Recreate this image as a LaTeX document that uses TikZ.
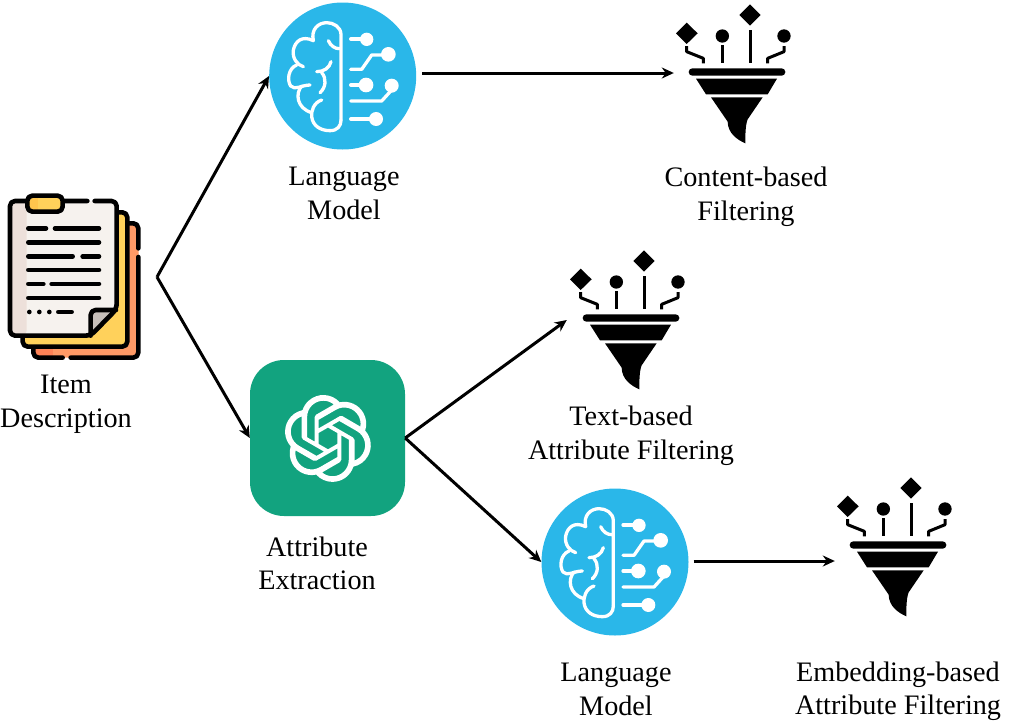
\documentclass[tikz,border=0pt]{standalone}
\usepackage{fontspec}
\setmainfont{Liberation Serif}
\usetikzlibrary{arrows.meta,svg.path}
\definecolor{brainblue}{HTML}{2AB7E9}
\definecolor{gptgreen}{HTML}{12A37F}
\definecolor{paper}{HTML}{F6F2EE}
\definecolor{paperband}{HTML}{EDE0DA}
\definecolor{sheetyellow}{HTML}{FFD15B}
\definecolor{sheetorange}{HTML}{FF9A66}
\definecolor{foldgray}{HTML}{C6BFBA}
\tikzset{
  lbl/.style={align=center,font=\fontsize{28.2}{33.5}\selectfont,inner sep=0pt},
  flow/.style={line width=3pt,-{Stealth[length=12pt,width=11pt]}},
  brainnode/.style={circle,fill=brainblue,minimum size=147pt,inner sep=0pt},
  funnelnode/.style={minimum width=126pt,minimum height=100pt,inner sep=0pt},
  wline/.style={white,line width=3.3pt,line cap=round,line join=round},
  docline/.style={line width=4.6pt,line cap=round,line join=round},
  fstem/.style={line width=3pt,line join=round},
}
\newcommand{\brainart}[2]{%
\begin{scope}[shift={(#1,#2)},x=.3333pt,y=-.3333pt,shift={(-248,-228)}]
  \draw[wline] (243,360) -- (243,105) .. controls (243,80) and (220,68) .. (200,68) .. controls (175,68) and (152,88) .. (160,122);
  \draw[wline] (160,122) .. controls (125,105) and (105,125) .. (100,150) .. controls (96,175) and (112,195) .. (130,200);
  \draw[wline] (110,195) .. controls (85,205) and (80,240) .. (92,258) .. controls (105,272) and (125,255) .. (150,255);
  \draw[wline] (125,258) .. controls (105,280) and (110,325) .. (155,338);
  \draw[wline] (185,300) .. controls (160,308) and (153,335) .. (155,350) .. controls (158,378) and (182,392) .. (210,392) .. controls (232,392) and (243,378) .. (243,360);
  \draw[wline] (205,122) .. controls (212,138) and (225,146) .. (238,146);
  \draw[wline] (213,185) .. controls (208,205) and (190,215) .. (170,215);
  \draw[wline] (185,218) .. controls (200,235) and (198,262) .. (180,278);
  \draw[wline] (272,117) -- (315,117);
  \fill[white] (320,118) circle (20);
  \draw[wline] (272,208) -- (305,208) -- (335,165) -- (375,165);
  \fill[white] (385,163) circle (22);
  \draw[wline] (272,255) -- (315,255);
  \fill[white] (318,255) circle (22);
  \draw[wline] (272,303) -- (365,303) -- (395,270);
  \fill[white] (395,257) circle (21);
  \draw[wline] (272,357) -- (340,357);
  \fill[white] (348,357) circle (21);
\end{scope}}
\newcommand{\funnelart}[2]{%
\begin{scope}[shift={(#1,#2)},x=.3333pt,y=-.3333pt,shift={(-233,-216)}]
  \fill (272,13) -- (304,45) -- (272,77) -- (240,45) -- cycle;
  \fill (82,68) -- (115,100) -- (82,132) -- (50,100) -- cycle;
  \fill (189,108) circle (20);
  \fill (374,108) circle (20);
  \draw[fstem] (272,90) -- (272,190);
  \draw[fstem] (189,135) -- (189,190);
  \draw[fstem] (82,138) -- (82,155) -- (132,175) -- (132,190);
  \draw[fstem] (374,138) -- (374,155) -- (325,175) -- (325,190);
  \fill[rounded corners=3.6pt] (88,205) rectangle (378,227);
  \fill (110,236) -- (353,236) -- (325,283) -- (140,283) -- cycle;
  \fill (155,292) -- (310,292) -- (265,358) .. controls (258,375) and (258,405) .. (258,430) .. controls (235,420) and (205,400) .. (205,365) -- cycle;
\end{scope}}
\begin{document}
\begin{tikzpicture}[x=1pt,y=-1pt]
\useasboundingbox (0,0) rectangle (1009,726);
% item description icon
\node[minimum width=130pt,minimum height=160pt,inner sep=0pt] (doc) at (75,277) {};
\begin{scope}[x=.3333pt,y=-.3333pt,shift={(0,555)}]
  \fill[sheetorange,rounded corners=4pt] (100,115) rectangle (416,518);
  \fill[sheetorange!85!red] (100,470) rectangle (160,518);
  \draw[docline,rounded corners=5pt] (380,115) -- (415,115) -- (415,190);
  \draw[docline,rounded corners=5pt] (415,216) -- (415,518) -- (212,518);
  \draw[docline,rounded corners=5pt] (188,518) -- (100,518) -- (100,485);
  \fill[sheetyellow,rounded corners=4pt] (68,82) rectangle (382,485);
  \draw[docline,rounded corners=5pt] (350,82) -- (382,82) -- (382,485) -- (68,485) -- (68,450);
  \fill[paper,rounded corners=5pt] (30,48) -- (350,48) -- (350,370) -- (272,452) -- (30,452) -- cycle;
  \fill[paperband,rounded corners=5pt] (30,48) -- (80,48) -- (80,452) -- (30,452) -- cycle;
  \fill[foldgray] (272,375) -- (345,375) -- (272,450) -- cycle;
  \draw[docline,rounded corners=5pt] (262,48) -- (30,48) -- (30,452) -- (272,452) -- (350,372) -- (350,48) -- (284,48);
  \draw[docline,rounded corners=5pt] (272,452) -- (272,375) -- (348,375);
  \fill[sheetyellow,rounded corners=4pt] (82,32) rectangle (188,80);
  \fill[sheetyellow!85!orange] (88,36) rectangle (115,76);
  \draw[docline,rounded corners=5pt] (82,32) rectangle (188,80);
  \foreach \ya/\xa/\xb in {130/85/138,130/165/297,172/85/297,214/85/218,214/248/297,255/85/297,297/85/130,297/155/297,339/85/297,381/175/215}
    \draw[docline] (\xa,\ya) -- (\xb,\ya);
  \foreach \xa in {88,118,148} \fill (\xa,381) circle (7);
\end{scope}
% nodes
\node[brainnode] (lm1) at (342.7,76) {};
\brainart{342.7}{76}
\node[brainnode] (lm2) at (615,562) {};
\brainart{615}{562}
\node[funnelnode] (f1) at (737,73) {};
\funnelart{737}{72}
\node[funnelnode] (f2) at (630,320) {};
\funnelart{631}{318}
\node[funnelnode] (f3) at (898,561) {};
\funnelart{898}{545}
\node[fill=gptgreen,rounded corners=34pt,minimum width=155pt,minimum height=156pt,inner sep=0pt] (ae) at (327.5,438) {};
\begin{scope}[shift={(284.5,395)},yscale=-1,scale=3.62]
\fill[white,even odd rule] svg {M22.2819 9.8211a5.9847 5.9847 0 0 0 -0.5157 -4.9108 6.0462 6.0462 0 0 0 -6.5098 -2.9A6.0651 6.0651 0 0 0 4.9807 4.1818a5.9847 5.9847 0 0 0 -3.9977 2.9 6.0462 6.0462 0 0 0 0.7427 7.0966 5.98 5.98 0 0 0 0.511 4.9107 6.051 6.051 0 0 0 6.5146 2.9001A5.9847 5.9847 0 0 0 13.2599 24a6.0557 6.0557 0 0 0 5.7718 -4.2058 5.9894 5.9894 0 0 0 3.9977 -2.9001 6.0557 6.0557 0 0 0 -0.7475 -7.0729z
M13.2599 22.4292a4.4755 4.4755 0 0 1 -2.8764 -1.0408l0.1419 -0.0804 4.7783 -2.7582a0.7948 0.7948 0 0 0 0.3927 -0.6813v-6.7369l2.02 1.1686a0.071 0.071 0 0 1 0.038 0.052v5.5826a4.504 4.504 0 0 1 -4.4945 4.4944z
M3.5992 18.3038a4.4708 4.4708 0 0 1 -0.5346 -3.0137l0.142 0.0852 4.783 2.7582a0.7712 0.7712 0 0 0 0.7806 0l5.8428 -3.3685v2.3324a0.0804 0.0804 0 0 1 -0.0332 0.0615L9.74 19.9502a4.4992 4.4992 0 0 1 -6.1408 -1.6464z
M2.3408 7.8956a4.485 4.485 0 0 1 2.3655 -1.9728V11.6a0.7664 0.7664 0 0 0 0.3879 0.6765l5.8144 3.3543 -2.0201 1.1685a0.0757 0.0757 0 0 1 -0.071 0l-4.8303 -2.7865A4.504 4.504 0 0 1 2.3408 7.872z
M18.9371 11.7514L13.1038 8.364 15.1192 7.2a0.0757 0.0757 0 0 1 0.071 0l4.8303 2.7913a4.4944 4.4944 0 0 1 -0.6765 8.1042v-5.6772a0.79 0.79 0 0 0 -0.407 -0.667z
M20.9478 8.7283l-0.142 -0.0852 -4.7735 -2.7818a0.7759 0.7759 0 0 0 -0.7854 0L9.409 9.2297V6.8974a0.0662 0.0662 0 0 1 0.0284 -0.0615l4.8303 -2.7866a4.4992 4.4992 0 0 1 6.6802 4.66z
M8.3065 12.863l-2.02 -1.1638a0.0804 0.0804 0 0 1 -0.038 -0.0567V6.0742a4.4992 4.4992 0 0 1 7.3757 -3.4537l-0.142 0.0805L8.704 5.459a0.7948 0.7948 0 0 0 -0.3927 0.6813z
M9.4041 10.4976l2.602 -1.4998 2.6069 1.4998v2.9994l-2.5974 1.4997 -2.6067 -1.4997Z};
\end{scope}
% labels
\node[lbl] (tdoc) at (66,404.5) {Item\\Description};
\node[lbl] (tlm1) at (344,193.5) {Language\\Model};
\node[lbl] (tf1) at (746,197) {Content-based\\Filtering};
\node[lbl] (tf2) at (631,435.8) {Text-based\\Attribute Filtering};
\node[lbl] (tae) at (317,563.5) {Attribute\\Extraction};
\node[lbl] (tlm2) at (616,689.5) {Language\\Model};
\node[lbl] (tf3) at (898,691) {Embedding-based\\Attribute Filtering};
% connectors
\coordinate (split) at (157,277);
\draw[flow] (split) -- (ae.west);
\draw[flow] (split) -- (lm1.west);
\draw[flow] ([xshift=6pt,yshift=3pt]lm1.east) -- (f1.west);
\draw[flow] (ae.east) -- (f2.west);
\draw[flow] (ae.east) -- (lm2.west);
\draw[flow] ([xshift=5pt,yshift=1pt]lm2.east) -- (f3.west);
\end{tikzpicture}
\end{document}
